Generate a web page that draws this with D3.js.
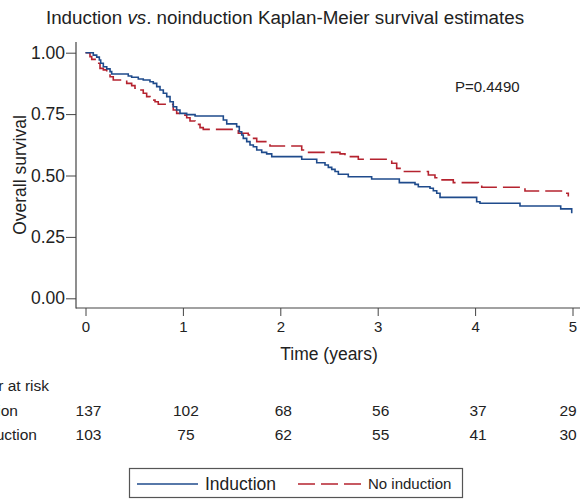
<!DOCTYPE html>
<html><head><meta charset="utf-8">
<script src="https://cdn.jsdelivr.net/npm/d3@7"></script>
<style>
html,body{margin:0;padding:0;background:#fff;}
svg{display:block;font-family:"Liberation Sans",Arial,Helvetica,sans-serif;}
</style></head>
<body>
<svg id="c" width="580" height="500"></svg>
<script>
// ---- data ----
const inductionTime = [0,0.080,0.115,0.142,0.156,0.183,0.218,0.252,0.269,0.439,0.474,0.542,0.593,0.662,0.696,0.731,0.765,0.799,0.834,0.868,0.901,0.936,0.970,1.039,1.125,1.415,1.450,1.552,1.579,1.604,1.620,1.655,1.689,1.723,1.758,1.809,1.860,1.912,2.220,2.374,2.459,2.493,2.528,2.562,2.596,2.698,2.938,3.222,3.383,3.417,3.537,3.571,3.606,3.640,4.016,4.050,4.461,4.879,4.992,5.0];
const inductionSurv = [1.0,0.990,0.982,0.970,0.957,0.943,0.934,0.923,0.913,0.905,0.900,0.893,0.889,0.882,0.875,0.862,0.848,0.835,0.821,0.800,0.780,0.767,0.753,0.748,0.742,0.726,0.710,0.699,0.678,0.665,0.651,0.638,0.624,0.617,0.604,0.594,0.588,0.577,0.566,0.552,0.543,0.533,0.525,0.516,0.505,0.495,0.486,0.471,0.464,0.454,0.448,0.438,0.428,0.411,0.393,0.387,0.376,0.364,0.350,0.350];
const noInductionTime = [0,0.046,0.064,0.115,0.149,0.183,0.218,0.252,0.285,0.423,0.474,0.508,0.542,0.593,0.628,0.662,0.714,0.747,0.901,0.936,0.988,1.039,1.073,1.125,1.176,1.209,1.569,1.671,1.706,1.758,1.860,1.894,2.220,2.254,2.613,2.664,2.801,3.144,3.195,3.263,3.520,3.588,3.640,3.776,4.033,4.068,4.512,4.923,4.957,4.965];
const noInductionSurv = [1.0,0.984,0.973,0.957,0.936,0.930,0.923,0.902,0.889,0.875,0.866,0.855,0.848,0.835,0.821,0.807,0.800,0.790,0.767,0.753,0.746,0.735,0.722,0.708,0.695,0.688,0.672,0.665,0.651,0.638,0.631,0.620,0.604,0.594,0.588,0.577,0.566,0.550,0.529,0.516,0.502,0.491,0.482,0.471,0.465,0.452,0.437,0.428,0.418,0.418];
const xTicks = [0,1,2,3,4,5];
const yTicks = [0,0.25,0.5,0.75,1];
const riskInduction = [137,102,68,56,37,29];
const riskNoInduction = [103,75,62,55,41,30];
const seriesNames = ["Induction","No induction"];
const pText = "P=0.4490";

// ---- drawing ----
const svg = d3.select("#c");
const blue = "#1f4b8c", red = "#b5232f", axisCol = "#444", txt = "#222";
const x = d3.scaleLinear().domain([0,5]).range([85.5,572.5]);
const y = d3.scaleLinear().domain([0,1]).range([298.3,52.7]);
const axX = 76, axY = 308;

// title
const t = svg.append("text").attr("x",285).attr("y",24).attr("text-anchor","middle")
  .attr("font-size",18.8).attr("fill",txt);
t.append("tspan").text("Induction ");
t.append("tspan").attr("font-style","italic").text("vs");
t.append("tspan").text(". noinduction Kaplan-Meier survival estimates");

// y axis
const gy = svg.append("g").attr("transform",`translate(${axX},0)`)
  .call(d3.axisLeft(y).tickValues(yTicks).tickFormat(d3.format(".2f")).tickSize(10).tickPadding(1));
gy.select(".domain").remove();
gy.selectAll(".tick line").attr("stroke",axisCol);
gy.selectAll(".tick text").attr("font-size",17.5).attr("fill",txt).attr("font-family","Liberation Sans, Arial, sans-serif");
svg.append("line").attr("x1",axX).attr("x2",axX).attr("y1",42).attr("y2",axY+0.5).attr("stroke",axisCol).attr("stroke-width",1.2);

// x axis
const gx = svg.append("g").attr("transform",`translate(0,${axY})`)
  .call(d3.axisBottom(x).tickValues(xTicks).tickFormat(d3.format("d")).tickSize(8).tickPadding(5));
gx.select(".domain").remove();
gx.selectAll(".tick line").attr("stroke",axisCol);
gx.selectAll(".tick text").attr("font-size",15).attr("fill",txt).attr("font-family","Liberation Sans, Arial, sans-serif");
svg.append("line").attr("x1",axX).attr("x2",580).attr("y1",axY).attr("y2",axY).attr("stroke",axisCol).attr("stroke-width",1.2);

// axis titles
svg.append("text").attr("transform","translate(26,175) rotate(-90)").attr("text-anchor","middle")
  .attr("font-size",17.5).attr("fill",txt).text("Overall survival");
svg.append("text").attr("x",329).attr("y",360).attr("text-anchor","middle")
  .attr("font-size",17.5).attr("fill",txt).text("Time (years)");

// curves
const line = d3.line().x(d=>x(d[0])).y(d=>y(d[1])).curve(d3.curveStepAfter);
const dInd = inductionTime.map((v,i)=>[v,inductionSurv[i]]);
const dNo = noInductionTime.map((v,i)=>[v,noInductionSurv[i]]);
svg.append("path").datum(dNo).attr("d",line).attr("fill","none").attr("stroke",red)
  .attr("stroke-width",1.6).attr("stroke-dasharray","17,6");
svg.append("path").datum(dInd).attr("d",line).attr("fill","none").attr("stroke",blue)
  .attr("stroke-width",1.6);

// p value
svg.append("text").attr("x",455).attr("y",92).attr("font-size",15).attr("fill",txt).text(pText);

// risk table
const fs = 15.5;
svg.append("text").attr("x",49).attr("y",391).attr("text-anchor","end").attr("font-size",fs).attr("fill",txt).text("Number at risk");
svg.append("text").attr("x",18).attr("y",416).attr("text-anchor","end").attr("font-size",fs).attr("fill",txt).text(seriesNames[0]);
svg.append("text").attr("x",37).attr("y",440).attr("text-anchor","end").attr("font-size",fs).attr("fill",txt).text(seriesNames[1]);
const rx = (i)=>Math.min(x(xTicks[i])+3, 568);
svg.selectAll(".r1").data(riskInduction).join("text").attr("x",(d,i)=>rx(i)).attr("y",416)
  .attr("text-anchor","middle").attr("font-size",fs).attr("fill",txt).text(d=>d);
svg.selectAll(".r2").data(riskNoInduction).join("text").attr("x",(d,i)=>rx(i)).attr("y",440)
  .attr("text-anchor","middle").attr("font-size",fs).attr("fill",txt).text(d=>d);

// legend
svg.append("rect").attr("x",129.5).attr("y",468.5).attr("width",333).attr("height",29)
  .attr("fill","#fff").attr("stroke","#555").attr("stroke-width",1.2);
svg.append("line").attr("x1",137).attr("x2",198).attr("y1",484).attr("y2",484).attr("stroke",blue).attr("stroke-width",1.6);
svg.append("text").attr("x",205).attr("y",490).attr("font-size",17.5).attr("fill",txt).text(seriesNames[0]);
svg.append("line").attr("x1",298).attr("x2",361).attr("y1",484).attr("y2",484).attr("stroke",red).attr("stroke-width",1.6).attr("stroke-dasharray","17,6");
svg.append("text").attr("x",368).attr("y",489).attr("font-size",15).attr("fill",txt).text(seriesNames[1]);
</script>
</body></html>
